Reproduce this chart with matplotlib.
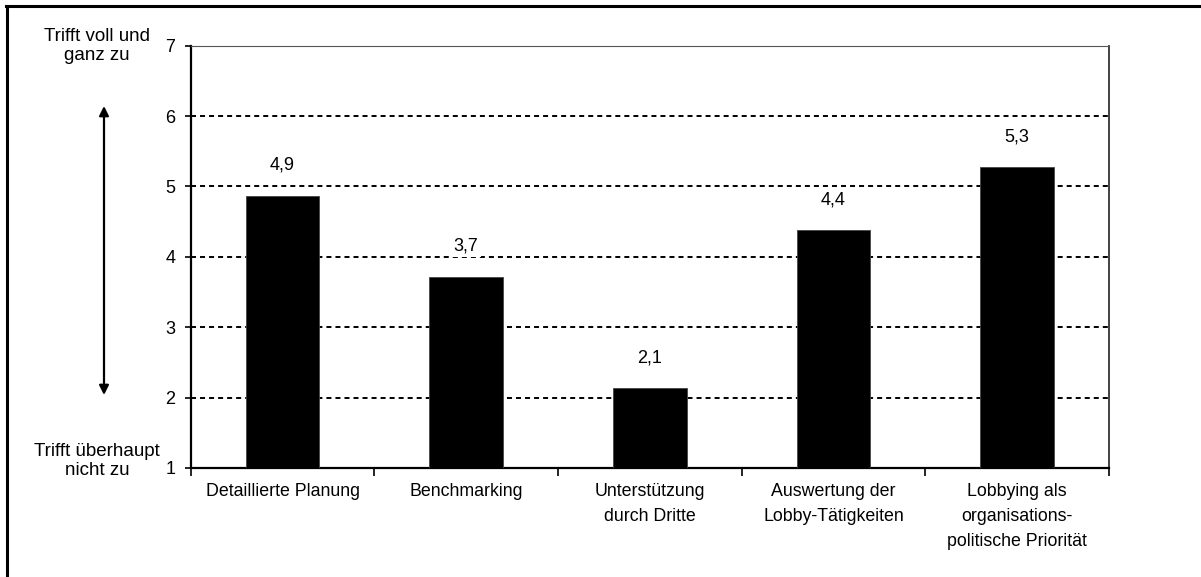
import numpy as np
import matplotlib.pyplot as plt
from matplotlib.lines import Line2D

plt.rcParams['font.family'] = ['Liberation Sans', 'DejaVu Sans']
plt.rcParams['lines.scale_dashes'] = False

categories = ['Detaillierte Planung', 'Benchmarking', 'Unterstützung\ndurch Dritte',
              'Auswertung der\nLobby-Tätigkeiten', 'Lobbying als\norganisations-\npolitische Priorität']
values = [4.87, 3.72, 2.13, 4.38, 5.27]
value_labels = ['4,9', '3,7', '2,1', '4,4', '5,3']
yticks = [1, 2, 3, 4, 5, 6, 7]
top_text = 'Trifft voll und\nganz zu'
bottom_text = 'Trifft überhaupt\nnicht zu'

W, H = 1201, 577
fig = plt.figure(figsize=(W / 100, H / 100), dpi=100)
ax = fig.add_axes([190.7 / W, 1 - 468 / H, (1109 - 190.7) / W, (468 - 45.7) / H])

x = np.arange(len(values))
ax.bar(x, values, width=0.4, bottom=0, color='black', edgecolor='#444444', linewidth=0.6, zorder=3)

ax.set_xlim(-0.5, len(values) - 0.5)
ax.set_ylim(1, 7)
ax.set_yticks(yticks)
ax.set_yticklabels([str(t) for t in yticks], fontsize=13)
ax.tick_params(axis='y', length=4, width=1.2, pad=7)

# ticks between categories, labels centred below bars
ax.set_xticks(np.arange(-0.5, len(values), 1.0))
ax.set_xticklabels([])
ax.set_xticks(x, minor=True)
ax.set_xticklabels(categories, minor=True, fontsize=12.8, linespacing=1.6)
ax.tick_params(axis='x', which='major', length=6, width=1.2)
ax.tick_params(axis='x', which='minor', length=0, pad=11)

for t in yticks[1:]:
    ax.axhline(t, color='black', lw=1.4, ls=(0, (3.6, 2.9)), zorder=1)

for s in ['left', 'bottom']:
    ax.spines[s].set_linewidth(1.6)
ax.spines['right'].set_linewidth(1.3)
ax.spines['right'].set_color('#333333')
ax.spines['top'].set_linewidth(0.8)
ax.spines['top'].set_color('#555555')

for xi, v, lab in zip(x, values, value_labels):
    ax.annotate(lab, (xi, v), xytext=(0, 22), textcoords='offset points',
                ha='center', va='center', fontsize=13, zorder=4,
                bbox=dict(facecolor='white', edgecolor='none', pad=1.5))

# side texts and double arrow
fig.text(97 / W, 1 - 46 / H, top_text, ha='center', va='center', fontsize=13.5, linespacing=1.1)
fig.text(97 / W, 1 - 461 / H, bottom_text, ha='center', va='center', fontsize=13.5, linespacing=1.1)
ax.annotate('', xy=(104 / W, 1 - 106 / H), xytext=(104 / W, 1 - 395 / H),
            xycoords='figure fraction', textcoords='figure fraction',
            arrowprops=dict(arrowstyle='<|-|>', color='black', lw=1.6,
                            mutation_scale=14, shrinkA=0, shrinkB=0))

# outer frame (top and left only)
fig.add_artist(Line2D([6 / W, 1], [1 - 6 / H, 1 - 6 / H], color='black', lw=2.2))
fig.add_artist(Line2D([6.5 / W, 6.5 / W], [0, 1 - 6 / H], color='black', lw=2.2))

fig.savefig('out.png', dpi=100)
